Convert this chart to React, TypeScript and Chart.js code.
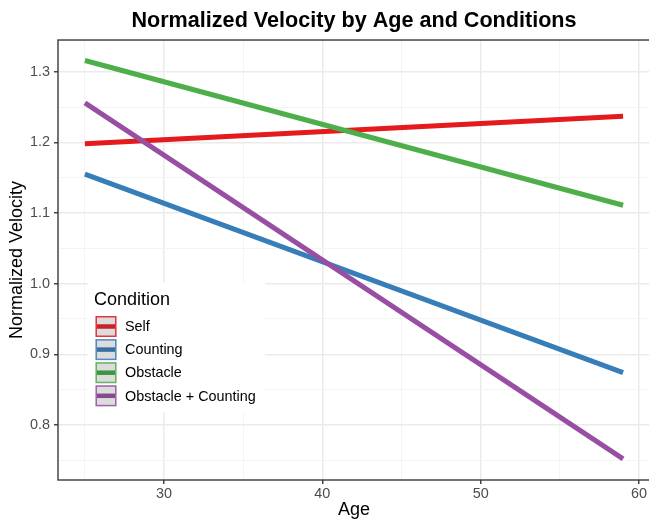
import React, { useEffect, useRef } from "react";
import { Chart, registerables } from "chart.js";

Chart.register(...registerables);

const AGES = [25, 59];
const SELF = [1.198, 1.237];
const COUNTING = [1.155, 0.874];
const OBSTACLE = [1.316, 1.111];
const OBSTACLE_COUNTING = [1.256, 0.752];

const SERIES_NAMES = ["Self", "Counting", "Obstacle", "Obstacle + Counting"];
const SERIES_COLORS = ["#E41A1C", "#377EB8", "#4DAF4A", "#984EA3"];
const KEY_LINE_COLORS = ["#C8222A", "#3A6FA2", "#3F9442", "#844A90"];

const X_MAJOR = [30, 40, 50, 60];
const X_MINOR = [25, 35, 45, 55];
const X_LABELS = ["30", "40", "50", "60"];
const Y_MAJOR = [0.8, 0.9, 1.0, 1.1, 1.2, 1.3];
const Y_MINOR = [0.75, 0.85, 0.95, 1.05, 1.15, 1.25];
const Y_LABELS = ["0.8", "0.9", "1.0", "1.1", "1.2", "1.3"];

const TITLE = "Normalized Velocity by Age and Conditions";
const X_TITLE = "Age";
const Y_TITLE = "Normalized Velocity";
const LEGEND_TITLE = "Condition";

const FAMILY = "'Liberation Sans', Arial, Helvetica, sans-serif";

const isMajor = (list: number[], v: number) => list.some((m) => Math.abs(m - v) < 1e-6);
const labelFor = (list: number[], labels: string[], v: number) => {
  const i = list.findIndex((m) => Math.abs(m - v) < 1e-6);
  return i >= 0 ? labels[i] : "";
};

const panelPlugin = {
  id: "panelExtras",
  afterDraw(chart: any) {
    const { ctx, chartArea } = chart;
    const { left, top, right, bottom } = chartArea;
    ctx.save();
    // legend box
    const bx = 88, by = 283, bw = 177, bh = 129;
    ctx.fillStyle = "#FFFFFF";
    ctx.fillRect(bx, by, bw, bh);
    ctx.fillStyle = "#000000";
    ctx.font = `18px ${FAMILY}`;
    ctx.textBaseline = "middle";
    ctx.textAlign = "left";
    ctx.fillText(LEGEND_TITLE, 94, 300);
    const step = 23.1;
    for (let i = 0; i < SERIES_NAMES.length; i++) {
      const cy = 326.5 + i * step;
      const kx = 95.5, kw = 21, kh = 21;
      ctx.fillStyle = "#DCDCDC";
      ctx.fillRect(kx, cy - kh / 2, kw, kh);
      ctx.strokeStyle = SERIES_COLORS[i];
      ctx.globalAlpha = 0.85;
      ctx.lineWidth = 1.5;
      ctx.strokeRect(kx + 0.75, cy - kh / 2 + 0.75, kw - 1.5, kh - 1.5);
      ctx.globalAlpha = 1;
      ctx.strokeStyle = KEY_LINE_COLORS[i];
      ctx.lineWidth = 4.5;
      ctx.beginPath();
      ctx.moveTo(kx + 1.5, cy);
      ctx.lineTo(kx + kw - 1.5, cy);
      ctx.stroke();
      ctx.fillStyle = "#000000";
      ctx.font = `14.4px ${FAMILY}`;
      ctx.fillText(SERIES_NAMES[i], 125, cy + 0.8);
    }
    // panel border
    ctx.strokeStyle = "#3A3A3A";
    ctx.lineWidth = 1.4;
    ctx.strokeRect(left, top, right - left, bottom - top);
    ctx.restore();
  },
};

export default function App() {
  const ref = useRef<HTMLCanvasElement | null>(null);
  useEffect(() => {
    document.body.style.margin = "0";
    document.body.style.overflow = "hidden";
    const canvas = ref.current;
    if (!canvas) return;
    const seriesData = [SELF, COUNTING, OBSTACLE, OBSTACLE_COUNTING];
    const majorColor = "#EBEBEB";
    const minorColor = "#F3F3F3";
    const chart = new Chart(canvas, {
      type: "line",
      data: {
        datasets: seriesData.map((vals, i) => ({
          label: SERIES_NAMES[i],
          data: AGES.map((a, j) => ({ x: a, y: vals[j] })),
          borderColor: SERIES_COLORS[i],
          backgroundColor: SERIES_COLORS[i],
          borderWidth: 5,
          borderCapStyle: "butt",
          pointRadius: 0,
          tension: 0,
          fill: false,
          order: 3 - i,
        })),
      },
      options: {
        animation: false,
        responsive: true,
        maintainAspectRatio: false,
        layout: { padding: { left: 0, right: 1, top: 0, bottom: 0 } },
        plugins: {
          legend: { display: false },
          tooltip: { enabled: false },
          title: {
            display: true,
            text: TITLE,
            fullSize: false,
            color: "#000000",
            font: { family: FAMILY, size: 21.6, weight: "bold", lineHeight: 1.2 },
            padding: { top: 8, bottom: 6.1 },
          },
        },
        scales: {
          x: {
            type: "linear",
            min: 23.3,
            max: 60.7,
            afterBuildTicks: (s: any) => {
              s.ticks = [...X_MINOR, ...X_MAJOR].sort((a, b) => a - b).map((v) => ({ value: v }));
            },
            afterFit: (s: any) => {
              s.height = 41;
            },
            ticks: {
              autoSkip: false,
              maxRotation: 0,
              padding: 1,
              color: "#4D4D4D",
              font: { family: FAMILY, size: 14.4 },
              callback: (v: any) => labelFor(X_MAJOR, X_LABELS, Number(v)),
            },
            grid: {
              color: (c: any) => (isMajor(X_MAJOR, c.tick?.value) ? majorColor : minorColor),
              lineWidth: (c: any) => (isMajor(X_MAJOR, c.tick?.value) ? 1.5 : 0.9),
              tickLength: 4,
              tickWidth: 1.4,
              tickColor: (c: any) => (isMajor(X_MAJOR, c.tick?.value) ? "#3A3A3A" : "rgba(0,0,0,0)"),
            },
            border: { display: false },
            title: {
              display: true,
              text: X_TITLE,
              color: "#000000",
              font: { family: FAMILY, size: 18, lineHeight: 1.2 },
              padding: { top: 0, bottom: 0 },
            },
          },
          y: {
            type: "linear",
            min: 0.722,
            max: 1.345,
            afterBuildTicks: (s: any) => {
              s.ticks = [...Y_MINOR, ...Y_MAJOR].sort((a, b) => a - b).map((v) => ({ value: v }));
            },
            afterFit: (s: any) => {
              s.width = 58;
            },
            ticks: {
              autoSkip: false,
              padding: 4,
              color: "#4D4D4D",
              font: { family: FAMILY, size: 14.4 },
              callback: (v: any) => labelFor(Y_MAJOR, Y_LABELS, Number(v)),
            },
            grid: {
              color: (c: any) => (isMajor(Y_MAJOR, c.tick?.value) ? majorColor : minorColor),
              lineWidth: (c: any) => (isMajor(Y_MAJOR, c.tick?.value) ? 1.5 : 0.9),
              tickLength: 4,
              tickWidth: 1.4,
              tickColor: (c: any) => (isMajor(Y_MAJOR, c.tick?.value) ? "#3A3A3A" : "rgba(0,0,0,0)"),
            },
            border: { display: false },
            title: {
              display: true,
              text: Y_TITLE,
              color: "#000000",
              font: { family: FAMILY, size: 18, lineHeight: 1.2 },
              padding: { top: 6.2, bottom: 0 },
            },
          },
        },
      },
      plugins: [panelPlugin],
    } as any);
    return () => chart.destroy();
  }, []);
  return (
    <div style={{ width: 649, height: 521, overflow: "hidden", position: "relative", background: "#fff" }}>
      <div style={{ width: 651, height: 521, position: "relative" }}>
        <canvas ref={ref} />
      </div>
    </div>
  );
}
